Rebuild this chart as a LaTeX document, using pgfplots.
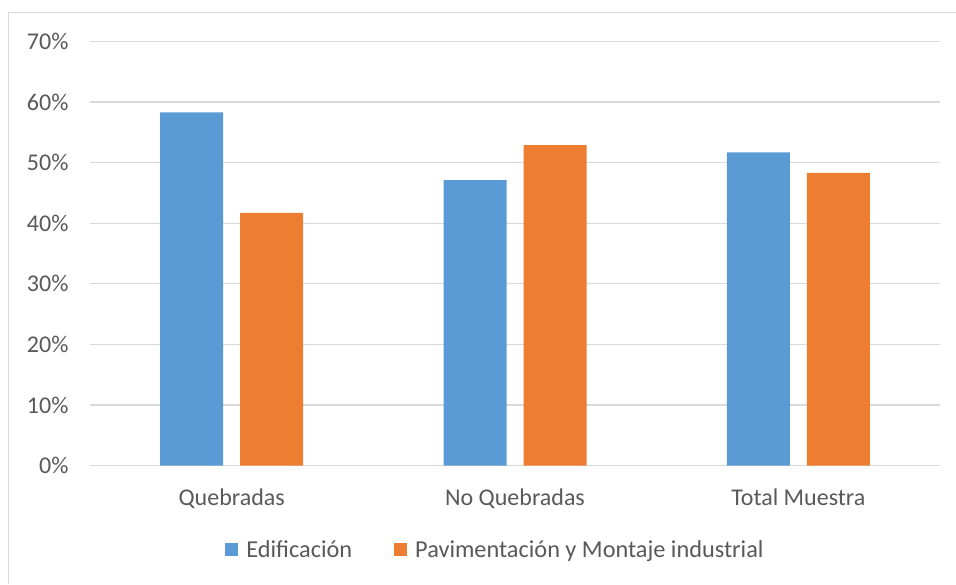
\documentclass[border=0pt]{standalone}
\usepackage{fontspec}
\setmainfont{Carlito}
\usepackage{pgfplots}
\pgfplotsset{compat=1.18}
\definecolor{cblue}{HTML}{5B9BD5}
\definecolor{corange}{HTML}{ED7D31}
\definecolor{cgrid}{HTML}{D9D9D9}
\definecolor{ctext}{HTML}{595959}
\begin{document}
\begin{tikzpicture}
\useasboundingbox (0,0) rectangle (956pt,584pt);
\draw[cgrid, line width=1.3pt] (8.5pt,0) -- (8.5pt,571.5pt) -- (956pt,571.5pt);
\begin{axis}[
  at={(90pt,118.5pt)}, anchor=south west,
  width=850pt, height=424pt, scale only axis,
  ybar=17pt, bar width=63pt,
  xmin=-0.5, xmax=2.5, ymin=0, ymax=70,
  xtick={0,1,2}, xticklabels={Quebradas, No Quebradas, Total Muestra},
  ytick={0,10,...,70},
  yticklabel={\pgfmathprintnumber{\tick}\%},
  /pgf/number format/assume math mode=true,
  ymajorgrids, grid style={cgrid, line width=1.3pt},
  axis x line=bottom, axis y line=left, axis line style={draw=none},
  major tick length=0pt,
  tick label style={font=\fontsize{24}{29}\selectfont, text=ctext},
  yticklabel style={xshift=-18pt},
  xticklabel style={yshift=-20pt},
  legend columns=2,
  legend style={at={(0.477,-0.1986)}, anchor=center, draw=none,
    font=\fontsize{24.3}{29}\selectfont, text=ctext,
    /tikz/every odd column/.append style={column sep=6pt},
    /tikz/every even column/.append style={column sep=40pt}},
  legend image code/.code={\fill[#1] (0pt,-6.5pt) rectangle (13pt,6.5pt);},
]
\addplot[fill=cblue, draw=none] coordinates {(0,58.3) (1,47.1) (2,51.7)};
\addplot[fill=corange, draw=none] coordinates {(0,41.7) (1,52.9) (2,48.3)};
\legend{Edificación, Pavimentación y Montaje industrial}
\end{axis}
\end{tikzpicture}
\end{document}
